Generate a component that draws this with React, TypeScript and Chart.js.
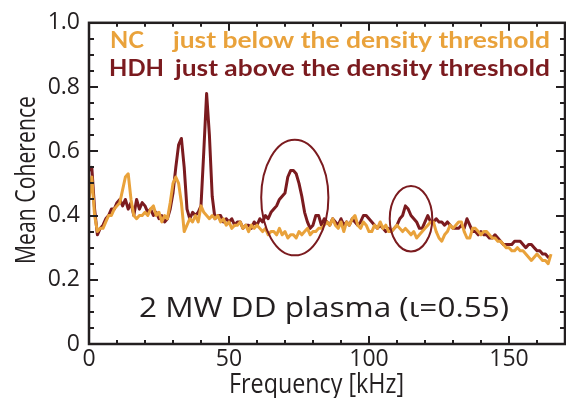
import React, { useEffect, useRef } from "react";
import { Chart, registerables } from "chart.js";

Chart.register(...registerables);

// Frequency axis (kHz)
const freq = [
  0, 1, 2, 3, 4, 5, 6, 7, 8, 9,
  10, 11, 12, 13, 14, 15, 16, 17, 18, 19,
  20, 21, 22, 23, 24, 25, 26, 27, 28, 29,
  30, 31, 32, 33, 34, 35, 36, 37, 38, 39,
  40, 41, 42, 43, 44, 45, 46, 47, 48, 49,
  50, 51, 52, 53, 54, 55, 56, 57, 58, 59,
  60, 61, 62, 63, 64, 65, 66, 67, 68, 69,
  70, 71, 72, 73, 74, 75, 76, 77, 78, 79,
  80, 81, 82, 83, 84, 85, 86, 87, 88, 89,
  90, 91, 92, 93, 94, 95, 96, 97, 98, 99,
  100, 101, 102, 103, 104, 105, 106, 107, 108, 109,
  110, 111, 112, 113, 114, 115, 116, 117, 118, 119,
  120, 121, 122, 123, 124, 125, 126, 127, 128, 129,
  130, 131, 132, 133, 134, 135, 136, 137, 138, 139,
  140, 141, 142, 143, 144, 145, 146, 147, 148, 149,
  150, 151, 152, 153, 154, 155, 156, 157, 158, 159,
  160, 161, 162, 163, 164, 165,
];

// HDH: just above the density threshold
const hdh = [
  0.54, 0.55, 0.42, 0.34, 0.36, 0.37, 0.39, 0.40, 0.42, 0.42,
  0.44, 0.45, 0.43, 0.45, 0.42, 0.44, 0.40, 0.45, 0.42, 0.44,
  0.43, 0.41, 0.42, 0.40, 0.41, 0.39, 0.40, 0.38, 0.39, 0.42,
  0.47, 0.55, 0.62, 0.64, 0.55, 0.42, 0.39, 0.41, 0.40, 0.41,
  0.43, 0.60, 0.78, 0.65, 0.46, 0.39, 0.40, 0.40, 0.38, 0.39,
  0.38, 0.39, 0.37, 0.38, 0.38, 0.36, 0.37, 0.37, 0.36, 0.38,
  0.37, 0.39, 0.38, 0.40, 0.39, 0.41, 0.42, 0.43, 0.45, 0.46,
  0.47, 0.52, 0.54, 0.54, 0.53, 0.50, 0.46, 0.41, 0.38, 0.36,
  0.37, 0.40, 0.40, 0.37, 0.39, 0.38, 0.37, 0.39, 0.38, 0.37,
  0.39, 0.37, 0.38, 0.37, 0.39, 0.38, 0.37, 0.38, 0.40, 0.40,
  0.39, 0.38, 0.37, 0.36, 0.37, 0.36, 0.35, 0.36, 0.35, 0.36,
  0.37, 0.39, 0.40, 0.43, 0.42, 0.40, 0.39, 0.38, 0.36, 0.36,
  0.38, 0.40, 0.38, 0.38, 0.39, 0.38, 0.38, 0.37, 0.38, 0.37,
  0.36, 0.36, 0.36, 0.37, 0.36, 0.39, 0.37, 0.35, 0.35, 0.34,
  0.35, 0.34, 0.34, 0.33, 0.33, 0.34, 0.33, 0.32, 0.31, 0.31,
  0.31, 0.31, 0.32, 0.32, 0.32, 0.31, 0.30, 0.31, 0.31, 0.30,
  0.29, 0.29, 0.28, 0.28, 0.27, 0.27,
];

// NC: just below the density threshold
const nc = [
  0.45, 0.52, 0.40, 0.35, 0.36, 0.36, 0.38, 0.40, 0.40, 0.42,
  0.43, 0.44, 0.48, 0.52, 0.53, 0.45, 0.40, 0.39, 0.40, 0.40,
  0.41, 0.40, 0.42, 0.43, 0.40, 0.41, 0.38, 0.40, 0.39, 0.44,
  0.50, 0.52, 0.50, 0.44, 0.35, 0.37, 0.39, 0.38, 0.40, 0.38,
  0.43, 0.41, 0.40, 0.39, 0.40, 0.39, 0.40, 0.38, 0.39, 0.37,
  0.38, 0.36, 0.37, 0.37, 0.38, 0.36, 0.37, 0.35, 0.37, 0.36,
  0.37, 0.36, 0.35, 0.36, 0.34, 0.35, 0.35, 0.34, 0.36, 0.34,
  0.35, 0.33, 0.34, 0.34, 0.33, 0.35, 0.34, 0.35, 0.36, 0.34,
  0.35, 0.35, 0.36, 0.36, 0.37, 0.38, 0.37, 0.39, 0.37, 0.36,
  0.38, 0.35, 0.38, 0.37, 0.39, 0.40, 0.37, 0.36, 0.38, 0.37,
  0.35, 0.35, 0.37, 0.36, 0.38, 0.36, 0.37, 0.35, 0.35, 0.36,
  0.37, 0.36, 0.35, 0.36, 0.35, 0.34, 0.35, 0.33, 0.34, 0.35,
  0.36, 0.37, 0.38, 0.38, 0.35, 0.33, 0.32, 0.34, 0.35, 0.37,
  0.36, 0.37, 0.38, 0.38, 0.35, 0.33, 0.33, 0.36, 0.36, 0.35,
  0.34, 0.35, 0.35, 0.34, 0.33, 0.33, 0.32, 0.32, 0.31, 0.30,
  0.30, 0.29, 0.29, 0.30, 0.29, 0.29, 0.28, 0.27, 0.26, 0.27,
  0.28, 0.27, 0.26, 0.26, 0.25, 0.28,
];

const xMajor = [0, 50, 100, 150];
const xMinor = [10, 20, 30, 40, 60, 70, 80, 90, 110, 120, 130, 140, 160];
const yMajor = [0, 0.2, 0.4, 0.6, 0.8, 1.0];
const yMinor = [0.05, 0.1, 0.15, 0.25, 0.3, 0.35, 0.45, 0.5, 0.55, 0.65, 0.7, 0.75, 0.85, 0.9, 0.95];

// Highlight ellipses (data units): centre frequency, centre coherence, half-width (kHz), half-height
const ellipseF = [73.5, 115];
const ellipseV = [0.456, 0.39];
const ellipseRF = [12, 7.6];
const ellipseRV = [0.18, 0.102];

const ORANGE = "#E9A23B";
const DARKRED = "#7B1B1F";
const INK = "#231F20";

const TICK_FONT = "'Open Sans', 'DejaVu Sans', sans-serif";

function fitText(
  ctx: CanvasRenderingContext2D,
  text: string,
  x: number,
  y: number,
  width: number,
  font: string,
  color: string
) {
  ctx.save();
  ctx.font = font;
  const w = ctx.measureText(text).width;
  const s = width / w;
  ctx.translate(x, y);
  ctx.scale(s, 1);
  ctx.fillStyle = color;
  ctx.textAlign = "left";
  ctx.textBaseline = "alphabetic";
  ctx.fillText(text, 0, 0);
  ctx.restore();
}

const framePlugin = {
  id: "frameAndMarks",
  afterDatasetsDraw(chart: any) {
    const { ctx, chartArea, scales } = chart;
    const { left, right, top, bottom } = chartArea;
    const x = scales.x;
    const y = scales.y;
    ctx.save();
    // ellipses
    ctx.strokeStyle = DARKRED;
    ctx.lineWidth = 2;
    for (let i = 0; i < ellipseF.length; i++) {
      const cx = x.getPixelForValue(ellipseF[i]);
      const cy = y.getPixelForValue(ellipseV[i]);
      const rx = x.getPixelForValue(ellipseF[i] + ellipseRF[i]) - cx;
      const ry = cy - y.getPixelForValue(ellipseV[i] + ellipseRV[i]);
      ctx.beginPath();
      ctx.ellipse(cx, cy, rx, ry, 0, 0, Math.PI * 2);
      ctx.stroke();
    }
    // ticks
    ctx.strokeStyle = INK;
    ctx.lineWidth = 2;
    const vt = (vals: number[], len: number) => {
      for (const v of vals) {
        const px = Math.round(x.getPixelForValue(v));
        ctx.beginPath();
        ctx.moveTo(px, bottom);
        ctx.lineTo(px, bottom - len);
        ctx.moveTo(px, top);
        ctx.lineTo(px, top + len);
        ctx.stroke();
      }
    };
    const ht = (vals: number[], len: number) => {
      for (const v of vals) {
        const py = Math.round(y.getPixelForValue(v));
        ctx.beginPath();
        ctx.moveTo(left, py);
        ctx.lineTo(left + len, py);
        ctx.moveTo(right, py);
        ctx.lineTo(right - len, py);
        ctx.stroke();
      }
    };
    vt(xMajor, 8);
    vt(xMinor, 4);
    ht(yMajor, 9);
    ht(yMinor, 5);
    // frame
    ctx.lineWidth = 2.5;
    ctx.strokeRect(left, top, right - left, bottom - top);
    ctx.restore();
  },
  afterDraw(chart: any) {
    const { ctx } = chart;
    const legendFont = "bold 23px Lato, 'Open Sans', sans-serif";
    fitText(ctx, "NC", 110, 48, 34, legendFont, ORANGE);
    fitText(ctx, "just below the density threshold", 173, 48, 377, legendFont, ORANGE);
    fitText(ctx, "HDH", 109, 76, 55, legendFont, DARKRED);
    fitText(ctx, "just above the density threshold", 175, 76, 375, legendFont, DARKRED);
    fitText(ctx, "2 MW DD plasma (\u03B9=0.55)", 139, 317, 370, "28px 'Open Sans', 'DejaVu Sans', sans-serif", INK);
    // axis titles
    fitText(ctx, "Frequency [kHz]", 229, 393, 175, "27px 'Open Sans', sans-serif", INK);
    ctx.save();
    ctx.translate(35, 180);
    ctx.rotate(-Math.PI / 2);
    ctx.font = "27px 'Open Sans', sans-serif";
    const t = "Mean Coherence";
    const w = ctx.measureText(t).width;
    const s = 168 / w;
    ctx.scale(s, 1);
    ctx.fillStyle = INK;
    ctx.textAlign = "center";
    ctx.textBaseline = "alphabetic";
    ctx.fillText(t, 0, 0);
    ctx.restore();
  },
};

export default function App() {
  const canvasRef = useRef<HTMLCanvasElement | null>(null);

  useEffect(() => {
    const canvas = canvasRef.current;
    if (!canvas) return;
    const chart = new Chart(canvas, {
      type: "line",
      data: {
        datasets: [
          {
            label: "NC",
            data: freq.map((f, i) => ({ x: f, y: nc[i] })),
            borderColor: ORANGE,
            borderWidth: 3,
            pointRadius: 0,
            tension: 0,
            borderJoinStyle: "round",
            fill: false,
            order: 0,
          },
          {
            label: "HDH",
            data: freq.map((f, i) => ({ x: f, y: hdh[i] })),
            borderColor: DARKRED,
            borderWidth: 3,
            pointRadius: 0,
            tension: 0,
            borderJoinStyle: "round",
            fill: false,
            order: 1,
          },
        ],
      },
      options: {
        responsive: false,
        animation: false,
        devicePixelRatio: 1,
        layout: { padding: { top: 11, right: 1, left: 0, bottom: 0 } },
        plugins: {
          legend: { display: false },
          tooltip: { enabled: false },
          title: { display: false },
        },
        scales: {
          x: {
            type: "linear",
            min: 0,
            max: 170,
            grid: { display: false, drawTicks: false },
            border: { display: false },
            afterBuildTicks: (scale: any) => {
              scale.ticks = xMajor.map((v) => ({ value: v }));
            },
            afterFit: (scale: any) => {
              scale.height = 54;
            },
            ticks: {
              padding: 2,
              color: INK,
              font: { family: TICK_FONT, size: 23 },
              maxRotation: 0,
              callback: (v: any) => String(v),
            },
          },
          y: {
            type: "linear",
            min: 0,
            max: 1,
            grid: { display: false, drawTicks: false },
            border: { display: false },
            afterBuildTicks: (scale: any) => {
              scale.ticks = yMajor.map((v) => ({ value: v }));
            },
            afterFit: (scale: any) => {
              scale.width = 89;
            },
            ticks: {
              padding: 9,
              color: INK,
              font: { family: TICK_FONT, size: 23 },
              callback: (v: any) => (Number(v) === 0 ? "0" : Number(v).toFixed(1)),
            },
          },
        },
      },
      plugins: [framePlugin],
    });
    return () => chart.destroy();
  }, []);

  return (
    <div style={{ position: "absolute", left: 0, top: 0, width: 566, height: 398, background: "#fff" }}>
      <canvas ref={canvasRef} width={566} height={398} style={{ display: "block" }} />
    </div>
  );
}
